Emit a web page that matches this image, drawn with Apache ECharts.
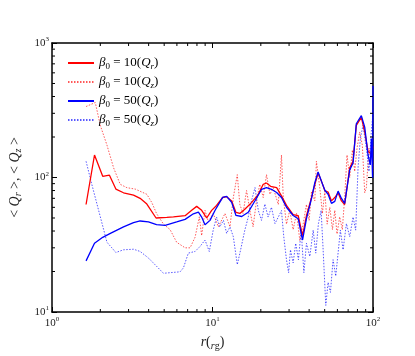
<!DOCTYPE html>
<html>
<head>
<meta charset="utf-8">
<script src="https://cdn.jsdelivr.net/npm/echarts@6/dist/echarts.min.js"></script>
<style>
html, body { margin: 0; padding: 0; background: #fff; }
#chart { width: 415px; height: 356px; }
</style>
</head>
<body>
<div id="chart"></div>
<script>
// beta0 = 10, <Q_r>
var rB10Qr = [1.63, 1.84, 2.07, 2.28, 2.5, 2.79, 3.22, 3.54, 3.9, 4.45, 5.19, 5.71, 6.75, 7.42, 7.97,
  8.56, 9.2, 9.88, 10.6, 11.57, 12.25, 13.16, 14.0, 14.8, 15.9, 17.5, 19.3, 20.7, 21.7, 23.0,
  25.1, 26.9, 28.9, 31.8, 34.2, 36.4, 38.5, 41.4, 43.4, 45.5, 47.7, 50.1, 52.5, 55.1, 57.8,
  60.6, 63.6, 66.6, 71.6, 75.1, 78.7, 84.6, 88.8, 93.1, 97.6, 100]
var qB10Qr = [63, 147, 102, 104, 82, 77, 74, 70, 63.5, 50, 50.5, 51, 52, 57, 61,
  57, 50, 57, 62, 71, 72, 67, 55, 54, 58, 65, 75, 89, 91, 86,
  84, 73, 62, 53, 52, 37, 52, 71, 89, 108, 94, 80, 78, 67, 71,
  77, 67, 63, 118, 132, 244, 280, 218, 156, 150, 170]

// beta0 = 10, <Q_z>
var rB10Qz = [1.63, 1.86, 2.0, 2.2, 2.42, 2.66, 2.93, 3.3, 3.54, 3.9, 4.19, 4.48, 4.95, 5.44, 5.98,
  6.75, 7.25, 7.79, 8.28, 8.56, 8.98, 9.42, 10.1, 10.87, 11.96, 12.85, 13.48, 14.27, 14.8, 15.5,
  16.3, 17.1, 17.9, 18.8, 19.7, 20.7, 21.7, 22.8, 23.9, 25.7, 26.9, 27.6, 28.9, 30.3, 31.8,
  33.4, 35.0, 36.7, 38.5, 40.0, 41.4, 43.4, 44.4, 46.6, 48.4, 50.1, 51.8, 53.8, 55.9, 57.8,
  59.7, 62.0, 64.4, 66.6, 68.9, 71.6, 74.4, 76.9, 79.5, 82.6, 85.8, 88.8, 90.9, 94.4, 97.2, 99.1, 100]
var qB10Qz = [337, 361, 244, 174, 118, 89, 84, 82, 79, 75, 65, 54, 45, 41, 33,
  30, 30, 36, 51, 37, 57, 47, 54, 43, 54, 43, 71, 105, 63, 54,
  80, 57, 43, 67, 89, 71, 105, 75, 84, 63, 147, 71, 45, 57, 41,
  54, 34, 45, 63, 48, 79, 67, 132, 84, 54, 79, 45, 60, 41, 57,
  38, 51, 41, 71, 147, 100, 160, 111, 165, 218, 174, 77, 84, 165, 139, 195, 111]

// beta0 = 50, <Q_r>
var rB50Qr = [1.63, 1.84, 2.07, 2.31, 2.79, 3.22, 3.54, 3.99, 4.48, 5.07, 5.98, 6.75, 7.6, 8.17, 8.56,
  8.98, 9.65, 10.36, 11.57, 12.25, 13.16, 14.0, 15.2, 16.7, 18.4, 20.2, 21.7, 23.3, 25.1, 26.9,
  28.9, 31.8, 34.2, 36.4, 38.5, 41.4, 43.4, 45.5, 47.7, 50.1, 52.5, 55.1, 57.8, 60.6, 63.6,
  66.6, 71.6, 75.1, 78.7, 84.6, 88.8, 93.1, 96.2, 97.7, 99.4, 100]
var qB50Qr = [24, 32.4, 35.9, 38.4, 42.9, 46.2, 47.5, 46.7, 44.6, 44.1, 46.7, 48.8, 53.7, 55.2, 50.8,
  44.6, 48, 56.8, 71.1, 72.3, 65.3, 52.2, 51.3, 55.2, 67.2, 81.7, 84.1, 81.7, 77.3, 71.1,
  60.1, 52.2, 49.4, 34.3, 49.4, 69.9, 91.4, 110, 94, 80.4, 75.1, 64.2, 66.4, 79.2, 69.9,
  64.2, 114, 128, 251, 288, 237, 147, 124, 195, 99.5, 480]

// beta0 = 50, <Q_z>
var rB50Qz = [1.63, 1.77, 2.0, 2.2, 2.36, 2.5, 2.79, 3.22, 3.54, 3.99, 4.48, 4.95, 5.44, 6.28, 6.59,
  7.07, 7.79, 8.36, 8.98, 9.55, 10.1, 10.6, 11.1, 11.7, 12.25, 12.85, 13.48, 14.27, 14.97, 15.9,
  16.7, 17.5, 18.4, 19.3, 20.2, 21.2, 22.2, 23.3, 24.5, 25.7, 26.9, 27.8, 28.9, 29.8, 30.6,
  31.8, 33.0, 34.3, 35.7, 37.1, 38.5, 40.4, 42.4, 44.0, 45.7, 47.5, 48.9, 50.8, 52.5, 54.3,
  56.4, 58.6, 60.6, 62.6, 65.1, 68.3, 71.6, 75.1, 78.0, 80.7, 83.4, 86.6, 90.9, 94.4, 97.6, 100]
var qB50Qz = [132, 89, 51, 33, 30, 27.7, 29, 29.3, 28.2, 25.2, 21.9, 19.4, 19.6, 19.9, 21.3,
  27.4, 28.2, 30.7, 34.3, 28.2, 40.6, 50.8, 42.9, 48, 38.4, 42.9, 36.3, 22.5, 29, 40.6,
  50.8, 67.2, 84.1, 56.8, 48, 63.5, 50.8, 60.1, 45.4, 50.8, 56.8, 36.3, 24.5, 19.6, 29,
  23.2, 32.4, 24.5, 40.6, 19.6, 32.4, 25.9, 40.6, 27.4, 45.4, 56.8, 29, 11.2, 16.6, 14,
  24.5, 18.5, 27.4, 40.6, 29, 45.4, 36.3, 50.8, 40.6, 118, 195, 244, 165, 111, 218, 300]

var minorR = [2, 3, 4, 5, 6, 7, 8, 9, 20, 30, 40, 50, 60, 70, 80, 90]
var minorQ = [20, 30, 40, 50, 60, 70, 80, 90, 200, 300, 400, 500, 600, 700, 800, 900]

var rMin = 1, rMax = 100, qMin = 10, qMax = 1000
var serif = 'Liberation Serif'

function pairs (xs, ys) {
  return xs.map(function (x, i) { return [x, ys[i]] })
}

var legendText = {
  'b10r': '{i|β}{sub|0} = 10({i|Q}{isub|r})',
  'b10z': '{i|β}{sub|0} = 10({i|Q}{isub|z})',
  'b50r': '{i|β}{sub|0} = 50({i|Q}{isub|r})',
  'b50z': '{i|β}{sub|0} = 50({i|Q}{isub|z})'
}

var richBase = {
  n: { fontFamily: serif, fontSize: 13, color: '#000' },
  i: { fontFamily: serif, fontSize: 13, fontStyle: 'italic', color: '#000' },
  sub: { fontFamily: serif, fontSize: 9, color: '#000', padding: [7, 0, 0, 0] },
  isub: { fontFamily: serif, fontSize: 9, fontStyle: 'italic', color: '#000', padding: [7, 0, 0, 0] }
}

var nameRich = {
  n: { fontFamily: serif, fontSize: 14, color: '#222' },
  i: { fontFamily: serif, fontSize: 14, fontStyle: 'italic', color: '#222' },
  sub: { fontFamily: serif, fontSize: 10, color: '#222', padding: [7, 0, 0, 0] },
  isub: { fontFamily: serif, fontSize: 10, fontStyle: 'italic', color: '#222', padding: [7, 0, 0, 0] }
}

var labelRich = {
  b: { fontFamily: serif, fontSize: 11, color: '#222' },
  s: { fontFamily: serif, fontSize: 7, color: '#222', padding: [0, 0, 7, 0] }
}

function powLabel (v) {
  var e = Math.round(Math.log(v) / Math.LN10)
  return '{b|10}{s|' + e + '}'
}

function minorTicks (vals, isX) {
  return {
    type: 'custom',
    silent: true,
    clip: false,
    z: 10,
    data: vals.map(function (v) { return isX ? [v, qMin] : [rMin, v] }),
    renderItem: function (params, api) {
      var st = { stroke: '#000', lineWidth: 1 }
      var a, b
      if (isX) {
        var v = api.value(0)
        a = api.coord([v, qMin])
        b = api.coord([v, qMax])
        return { type: 'group', children: [
          { type: 'line', shape: { x1: a[0], y1: a[1], x2: a[0], y2: a[1] - 3 }, style: st },
          { type: 'line', shape: { x1: b[0], y1: b[1], x2: b[0], y2: b[1] + 3 }, style: st }
        ] }
      }
      var w = api.value(1)
      a = api.coord([rMin, w])
      b = api.coord([rMax, w])
      return { type: 'group', children: [
        { type: 'line', shape: { x1: a[0], y1: a[1], x2: a[0] + 3, y2: a[1] }, style: st },
        { type: 'line', shape: { x1: b[0], y1: b[1], x2: b[0] - 3, y2: b[1] }, style: st }
      ] }
    }
  }
}

var axisLine = { show: true, lineStyle: { color: '#000', width: 1.5 } }
var axisTick = { show: true, inside: true, length: 5, lineStyle: { color: '#000', width: 1 } }

var option = {
  animation: false,
  backgroundColor: '#fff',
  grid: { left: 52, right: 42, top: 43, bottom: 39 },
  legend: {
    data: ['b10r', 'b10z', 'b50r', 'b50z'],
    orient: 'vertical',
    left: 62,
    top: 51,
    itemWidth: 26,
    itemHeight: 12,
    itemGap: 4,
    itemStyle: { opacity: 0 },
    formatter: function (name) { return legendText[name] },
    textStyle: { fontFamily: serif, fontSize: 13, color: '#000', rich: richBase, lineHeight: 14 }
  },
  xAxis: [
    {
      type: 'log', logBase: 10, min: rMin, max: rMax,
      axisLine: axisLine, axisTick: axisTick, splitLine: { show: false },
      axisLabel: { formatter: powLabel, rich: labelRich, margin: 4 },
      name: '{i|r}{n|(}{isub|r}{sub|g}{n|)}',
      nameLocation: 'middle', nameGap: 22,
      nameTextStyle: { rich: nameRich }
    },
    {
      type: 'log', logBase: 10, min: rMin, max: rMax, position: 'top',
      axisLine: axisLine, axisTick: axisTick, axisLabel: { show: false }, splitLine: { show: false }
    }
  ],
  yAxis: [
    {
      type: 'log', logBase: 10, min: qMin, max: qMax,
      axisLine: axisLine, axisTick: axisTick, splitLine: { show: false },
      axisLabel: { formatter: powLabel, rich: labelRich, margin: 3 },
      name: '{n|< }{i|Q}{isub|r}{n| >, < }{i|Q}{isub|z}{n| >}',
      nameLocation: 'middle', nameGap: 25, nameRotate: 90,
      nameTextStyle: { rich: nameRich }
    },
    {
      type: 'log', logBase: 10, min: qMin, max: qMax, position: 'right',
      axisLine: axisLine, axisTick: axisTick, axisLabel: { show: false }, splitLine: { show: false }
    }
  ],
  series: [
    {
      name: 'b10z', type: 'line', data: pairs(rB10Qz, qB10Qz), symbol: 'none', z: 2,
      lineStyle: { color: 'rgba(255,0,0,0.65)', width: 1, type: [1.5, 1.5] },
      itemStyle: { color: 'rgba(255,0,0,0.65)' }
    },
    {
      name: 'b50z', type: 'line', data: pairs(rB50Qz, qB50Qz), symbol: 'none', z: 2,
      lineStyle: { color: 'rgba(0,0,255,0.65)', width: 1, type: [1.5, 1.5] },
      itemStyle: { color: 'rgba(0,0,255,0.65)' }
    },
    {
      name: 'b10r', type: 'line', data: pairs(rB10Qr, qB10Qr), symbol: 'none', z: 3,
      lineStyle: { color: '#ff0000', width: 1.3 },
      itemStyle: { color: '#ff0000' }
    },
    {
      name: 'b50r', type: 'line', data: pairs(rB50Qr, qB50Qr), symbol: 'none', z: 3,
      lineStyle: { color: '#0000ff', width: 1.3 },
      itemStyle: { color: '#0000ff' }
    },
    minorTicks(minorR, true),
    minorTicks(minorQ, false)
  ]
}

var chart = echarts.init(document.getElementById('chart'))
chart.setOption(option)
</script>
</body>
</html>
